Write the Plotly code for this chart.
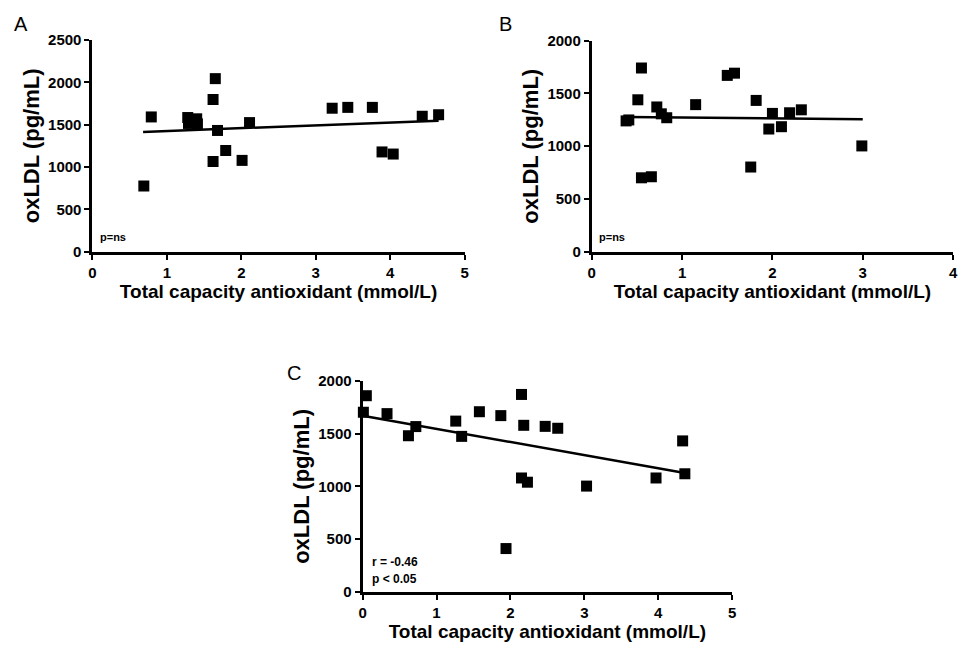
import plotly.graph_objects as go

# ---- data ----
A_x = [0.69, 0.79, 1.28, 1.29, 1.40, 1.41, 1.62, 1.62, 1.65, 1.68, 1.79, 2.01, 2.11, 3.22, 3.43, 3.76, 3.89, 4.04, 4.43, 4.65]
A_y = [775, 1592, 1585, 1515, 1570, 1510, 1798, 1065, 2045, 1432, 1195, 1078, 1525, 1695, 1705, 1705, 1178, 1153, 1600, 1618]
A_fit_x = [0.68, 4.65]
A_fit_y = [1415, 1548]

B_x = [0.38, 0.41, 0.51, 0.55, 0.55, 0.66, 0.72, 0.77, 0.83, 1.15, 1.50, 1.58, 1.76, 1.82, 1.96, 2.00, 2.10, 2.19, 2.32, 2.99]
B_y = [1240, 1249, 1440, 1741, 701, 711, 1372, 1307, 1270, 1394, 1671, 1692, 803, 1434, 1163, 1311, 1185, 1317, 1345, 1003]
B_fit_x = [0.38, 3.0]
B_fit_y = [1278, 1255]

C_x = [0.01, 0.05, 0.33, 0.62, 0.72, 1.26, 1.34, 1.58, 1.87, 1.94, 2.15, 2.15, 2.18, 2.23, 2.47, 2.64, 3.03, 3.97, 4.33, 4.36]
C_y = [1704, 1861, 1691, 1481, 1568, 1620, 1475, 1709, 1672, 410, 1873, 1080, 1580, 1040, 1570, 1552, 1003, 1080, 1432, 1120]
C_fit_x = [0.0, 4.36]
C_fit_y = [1670, 1128]

A_xticks = [0, 1, 2, 3, 4, 5]
A_yticks = [0, 500, 1000, 1500, 2000, 2500]
B_xticks = [0, 1, 2, 3, 4]
B_yticks = [0, 500, 1000, 1500, 2000]
C_xticks = [0, 1, 2, 3, 4, 5]
C_yticks = [0, 500, 1000, 1500, 2000]

x_title = "Total capacity antioxidant (mmol/L)"
y_title = "oxLDL (pg/mL)"

W, H = 966, 654
FONT = "Liberation Sans, Arial, sans-serif"

fig = go.Figure()

panels = [
    ("", A_x, A_y, A_fit_x, A_fit_y, A_xticks, A_yticks, (89.3, 465), (32, 249)),
    ("2", B_x, B_y, B_fit_x, B_fit_y, B_xticks, B_yticks, (593.3, 958), (32.5, 249.3)),
    ("3", C_x, C_y, C_fit_x, C_fit_y, C_xticks, C_yticks, (362, 735), (382, 598.3)),
]

for suf, xs, ys, fx, fy, xt, yt, (px0, px1), (py0, py1) in panels:
    fig.add_trace(go.Scatter(x=xs, y=ys, mode="markers", xaxis="x" + suf, yaxis="y" + suf,
                             marker=dict(symbol="square", size=11, color="black"),
                             cliponaxis=False, showlegend=False, hoverinfo="skip"))
    fig.add_trace(go.Scatter(x=fx, y=fy, mode="lines", xaxis="x" + suf, yaxis="y" + suf,
                             line=dict(color="black", width=2.5),
                             cliponaxis=False, showlegend=False, hoverinfo="skip"))
    axcommon = dict(showline=True, linecolor="black", linewidth=3, ticks="outside",
                    ticklen=5, tickwidth=2, tickcolor="black", showgrid=False, zeroline=False,
                    tickfont=dict(family=FONT, size=15, color="black", weight="bold"))
    fig.layout["xaxis" + suf] = dict(
        domain=[px0 / W, px1 / W], range=[0, xt[-1]], tickvals=xt, anchor="y" + suf,
        title=dict(text=x_title, font=dict(family=FONT, size=19, color="black", weight="bold"), standoff=3),
        **axcommon)
    fig.layout["yaxis" + suf] = dict(
        domain=[1 - py1 / H, 1 - py0 / H], range=[0, yt[-1]], tickvals=yt, anchor="x" + suf,
        title=dict(text=y_title, font=dict(family=FONT, size=22, color="black", weight="bold"), standoff=3),
        **axcommon)

def ann(text, x, y, size, bold=False, xanchor="left"):
    fig.add_annotation(text=text, x=x / W, y=1 - y / H, xref="paper", yref="paper",
                       showarrow=False, xanchor=xanchor, yanchor="middle",
                       font=dict(family=FONT, size=size, color="black",
                                 weight="bold" if bold else "normal"))

ann("A", 8, 15, 20)
ann("B", 498, 15, 20)
ann("C", 284, 374, 20)
ann("p=ns", 95, 234, 11, bold=True)
ann("p=ns", 599, 234, 11, bold=True)
ann("r = -0.46", 369, 568, 12, bold=True)
ann("p < 0.05", 369, 585, 12, bold=True)

fig.update_layout(width=W, height=H, margin=dict(l=0, r=0, t=0, b=0),
                  plot_bgcolor="white", paper_bgcolor="white", showlegend=False)

fig.write_html("out.html", config={"displayModeBar": False},
               post_script="document.body.style.margin='0';")
